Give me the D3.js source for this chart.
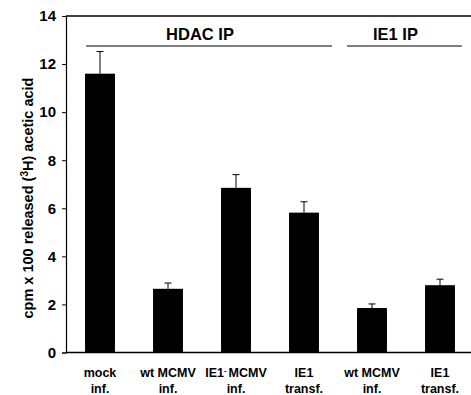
<!DOCTYPE html>
<html>
<head>
<meta charset="utf-8">
<script src="https://cdn.jsdelivr.net/npm/d3@7"></script>
<style>
  body { margin: 0; background: #fff; }
  svg text { font-family: Arial, "Liberation Sans", Helvetica, sans-serif; font-weight: bold; fill: #000; }
</style>
</head>
<body>
<div id="chart"></div>
<script>
// chart values
const categories = ["mock", "wtHDAC", "ie1minus", "ie1transfHDAC", "wtIE1", "ie1transfIE1"];
const labelLine1 = ["mock", "wt MCMV", "IE1- MCMV", "IE1", "wt MCMV", "IE1"];
const labelLine2 = ["inf.", "inf.", "inf.", "transf.", "inf.", "transf."];
const values = [11.6, 2.65, 6.85, 5.82, 1.85, 2.8];
const errors = [0.92, 0.24, 0.55, 0.45, 0.17, 0.25];
const yTicks = [0, 2, 4, 6, 8, 10, 12, 14];
const groups = [
  {name: "HDAC IP", first: 0, last: 3, padL: 1, padR: 13},
  {name: "IE1 IP", first: 4, last: 5, padL: -10, padR: 7}
];

const width = 471, height = 395;
const margin = {top: 16, right: 0, bottom: 42, left: 66};

const svg = d3.select("#chart").append("svg")
  .attr("width", width)
  .attr("height", height);

const x = d3.scaleBand()
  .domain(categories)
  .range([margin.left, margin.left + 6 * 68])
  .paddingInner(0.56)
  .paddingOuter(0.28);

const y = d3.scaleLinear()
  .domain([0, 14])
  .range([352.5, margin.top]);

// frame top line
svg.append("line")
  .attr("x1", margin.left).attr("x2", width)
  .attr("y1", y(14)).attr("y2", y(14))
  .attr("stroke", "#000").attr("stroke-width", 1.5);

// bottom axis line
svg.append("line")
  .attr("x1", margin.left).attr("x2", width)
  .attr("y1", y(0)).attr("y2", y(0))
  .attr("stroke", "#000").attr("stroke-width", 1.5);

// y axis
const yAxis = svg.append("g")
  .attr("transform", `translate(${margin.left},0)`)
  .call(d3.axisLeft(y).tickValues(yTicks).tickSize(4).tickPadding(6));
yAxis.select(".domain").attr("stroke-width", 1.2);
yAxis.selectAll("text")
  .style("font-size", "15px")
  .style("font-family", "Arial, 'Liberation Sans', sans-serif")
  .style("font-weight", "bold");

// y title
svg.append("text")
  .attr("transform", `translate(33,198) rotate(-90)`)
  .attr("text-anchor", "middle")
  .style("font-size", "14.5px")
  .html("cpm x 100 released (<tspan dy='-5' font-size='10px'>3</tspan><tspan dy='5'>H) acetic acid</tspan>");

// bars
svg.selectAll(".bar")
  .data(categories)
  .enter().append("rect")
  .attr("class", "bar")
  .attr("x", d => x(d))
  .attr("width", x.bandwidth())
  .attr("y", (d, i) => y(values[i]))
  .attr("height", (d, i) => y(0) - y(values[i]))
  .attr("fill", "#000");

// error bars (upward only)
const err = svg.selectAll(".err")
  .data(categories)
  .enter().append("g")
  .attr("class", "err");
err.append("line")
  .attr("x1", d => x(d) + x.bandwidth() / 2)
  .attr("x2", d => x(d) + x.bandwidth() / 2)
  .attr("y1", (d, i) => y(values[i]))
  .attr("y2", (d, i) => y(values[i] + errors[i]))
  .attr("stroke", "#000").attr("stroke-width", 1);
err.append("line")
  .attr("x1", d => x(d) + x.bandwidth() / 2 - 3.5)
  .attr("x2", d => x(d) + x.bandwidth() / 2 + 3.5)
  .attr("y1", (d, i) => y(values[i] + errors[i]))
  .attr("y2", (d, i) => y(values[i] + errors[i]))
  .attr("stroke", "#000").attr("stroke-width", 1);

// group labels
groups.forEach(g => {
  const x0 = x(categories[g.first]) + g.padL;
  const x1 = x(categories[g.last]) + x.bandwidth() + g.padR;
  svg.append("line")
    .attr("x1", x0).attr("x2", x1)
    .attr("y1", 46).attr("y2", 46)
    .attr("stroke", "#000").attr("stroke-width", 1.2);
  svg.append("text")
    .attr("x", (x0 + x1) / 2 - 9)
    .attr("y", 40)
    .attr("text-anchor", "middle")
    .style("font-size", "16.5px")
    .text(g.name);
});

// x labels
const xl = svg.selectAll(".xlab")
  .data(categories)
  .enter().append("text")
  .attr("class", "xlab")
  .attr("text-anchor", "middle")
  .style("font-size", "12.5px");
xl.append("tspan")
  .attr("x", d => x(d) + x.bandwidth() / 2)
  .attr("y", 377)
  .each(function(d, i) {
    const s = labelLine1[i];
    if (s.startsWith("IE1-")) {
      d3.select(this).append("tspan").text("IE1");
      d3.select(this).append("tspan").attr("dy", -4).style("font-size", "8px").text("-");
      d3.select(this).append("tspan").attr("dy", 4).attr("dx", 2).text("MCMV");
    } else {
      d3.select(this).text(s);
    }
  });
xl.append("tspan")
  .attr("x", d => x(d) + x.bandwidth() / 2)
  .attr("y", 393)
  .text((d, i) => labelLine2[i]);
</script>
</body>
</html>
